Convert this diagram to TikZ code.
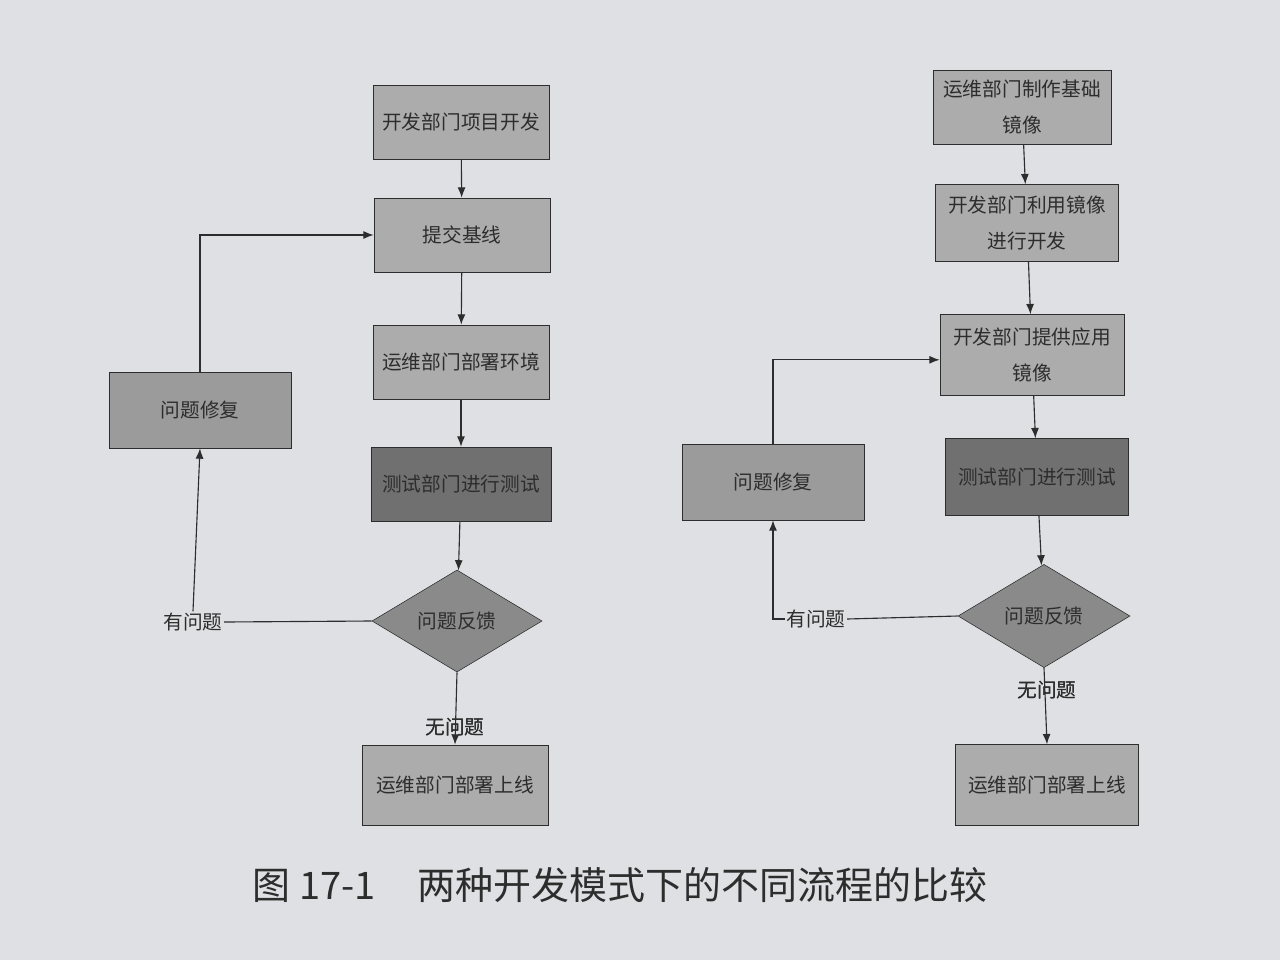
\documentclass[tikz,border=0pt]{standalone}
\usepackage{fontspec}
\setmainfont{Noto Sans CJK SC}
\usetikzlibrary{shapes.geometric,arrows.meta}

\definecolor{paper}{RGB}{222,224,227}
\definecolor{boxgray}{RGB}{172,172,172}
\definecolor{fixgray}{RGB}{155,155,155}
\definecolor{askgray}{RGB}{138,138,138}
\definecolor{testgray}{RGB}{112,112,112}
\definecolor{ink}{RGB}{45,45,45}

\tikzset{
  stepbox/.style={draw=ink, fill=boxgray, minimum width=4.4cm, minimum height=1.85cm,
    align=center, inner sep=1pt, text=ink, font=\fontsize{14}{25}\selectfont},
  fixbox/.style={stepbox, fill=fixgray, minimum width=4.55cm, minimum height=1.9cm},
  testbox/.style={stepbox, fill=testgray, minimum width=4.5cm},
  askbox/.style={draw=ink, fill=askgray, diamond, inner sep=0pt, minimum width=4.25cm,
    minimum height=2.55cm, text=ink, font=\fontsize{14}{16}\selectfont},
  tag/.style={inner sep=1pt, text=ink, font=\fontsize{14}{16}\selectfont},
  flow/.style={draw=ink, thick, -{Latex[length=2.6mm,width=2mm]}},
  link/.style={draw=ink, thick}
}

\begin{document}
\begin{tikzpicture}[x=0.025cm, y=-0.025cm]
  % page
  \fill[paper] (0,0) rectangle (1280,960);

  % left: old way
  \node[stepbox] (dev1) at (461,122) {开发部门项目开发};
  \node[stepbox] (base1) at (462,235) {提交基线};
  \node[stepbox] (env1) at (461,362) {运维部门部署环境};
  \node[testbox] (test1) at (461,484) {测试部门进行测试};
  \node[askbox] (ask1) at (457,621) {问题反馈};
  \node[stepbox, minimum width=4.65cm, minimum height=2cm] (live1) at (455,785) {运维部门部署上线};
  \node[fixbox] (fix1) at (200,410) {问题修复};
  \node[tag] (yes1) at (193,622) {有问题};
  \node[tag] (no1) at (455,727) {无问题};

  \draw[flow] (dev1) -- (base1);
  \draw[flow] (base1) -- (env1);
  \draw[flow] (env1) -- (test1);
  \draw[flow] (test1) -- (ask1);
  \draw[link] (ask1.west) -- (yes1.east);
  \draw[flow] (yes1.north) -- (fix1.south);
  \draw[flow] (fix1.north) |- (base1.west);
  \draw[flow] (ask1.south) -- (live1.north);
  \node[tag] at (no1) {无问题};

  % right: with docker images
  \node[stepbox, minimum width=4.45cm] (img1) at (1022,107) {运维部门制作基础\\镜像};
  \node[stepbox, minimum width=4.58cm, minimum height=1.92cm] (img2) at (1027,223) {开发部门利用镜像\\进行开发};
  \node[stepbox, minimum width=4.6cm, minimum height=2.02cm] (img3) at (1032,355) {开发部门提供应用\\镜像};
  \node[testbox, minimum width=4.58cm, minimum height=1.92cm] (test2) at (1037,477) {测试部门进行测试};
  \node[askbox, minimum width=4.3cm, minimum height=2.58cm] (ask2) at (1044,616) {问题反馈};
  \node[stepbox, minimum width=4.58cm, minimum height=2.02cm] (live2) at (1047,785) {运维部门部署上线};
  \node[fixbox] (fix2) at (773,482) {问题修复};
  \node[tag] (yes2) at (816,619) {有问题};
  \node[tag] (no2) at (1047,690) {无问题};

  \draw[flow] (img1) -- (img2);
  \draw[flow] (img2) -- (img3);
  \draw[flow] (img3) -- (test2);
  \draw[flow] (test2) -- (ask2);
  \draw[link] (ask2.west) -- (yes2.east);
  \draw[flow] (yes2.west) -| (fix2.south);
  \draw[flow] (fix2.north) |- ([yshift=-0.12cm]img3.west);
  \draw[flow] (ask2.south) -- (live2.north);
  \node[tag] at (no2) {无问题};

  % caption
  \node[font=\fontsize{27}{30}\selectfont, text=ink] (cap) at (620,885) {图 17-1\hspace{1.1em}两种开发模式下的不同流程的比较};
\end{tikzpicture}
\end{document}
